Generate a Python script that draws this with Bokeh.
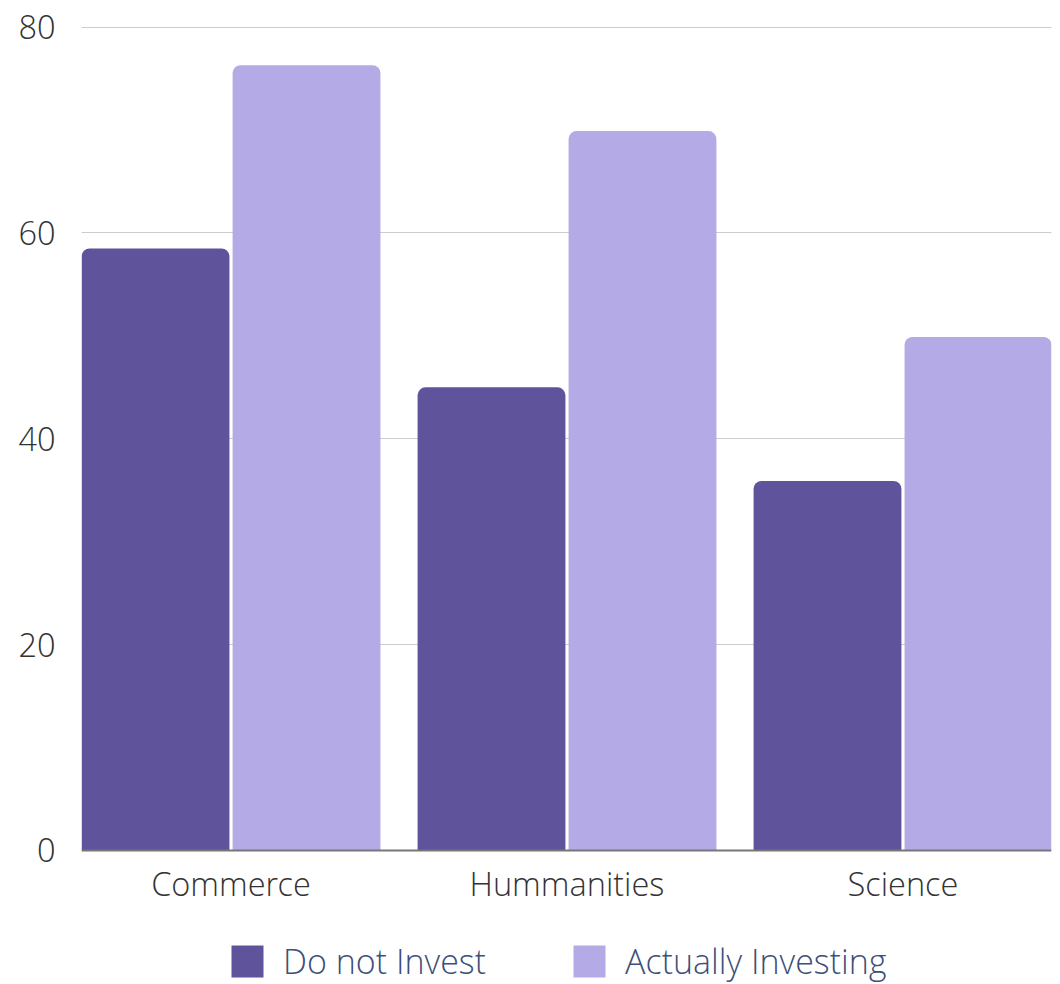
from bokeh.plotting import figure
from bokeh.models import ColumnDataSource, Range1d, FixedTicker, Legend, LegendItem
from bokeh.transform import dodge
from bokeh.embed import file_html
from bokeh.resources import INLINE

categories = ["Commerce", "Hummanities", "Science"]
do_not_invest = [58.5, 45.0, 35.9]
actually_investing = [76.3, 69.9, 49.9]
y_ticks = [0, 20, 40, 60, 80]

DARK = "#5f539c"
LIGHT = "#b3aae6"
FONT = "'Open Sans Light', 'Open Sans'"

src = ColumnDataSource(dict(
    x=list(range(len(categories))),
    dni=do_not_invest,
    ai=actually_investing,
))

# frame runs to the bottom of the page; the value 0 sits 134 px above it
p = figure(frame_width=970, frame_height=958, output_backend="svg", toolbar_location=None,
           x_range=Range1d(-0.445, 2.442), y_range=Range1d(-13.02, 80.06),
           min_border_left=81, min_border_right=9, min_border_top=26,
           min_border_bottom=0)
p.outline_line_color = None
p.background_fill_color = "white"
p.border_fill_color = "white"

r1 = p.vbar(x=dodge("x", -0.2247), top="dni", bottom=0, width=0.44, source=src,
            fill_color=DARK, line_color=None, border_radius=(8, 8, 0, 0))
r2 = p.vbar(x=dodge("x", 0.2247), top="ai", bottom=0, width=0.44, source=src,
            fill_color=LIGHT, line_color=None, border_radius=(8, 8, 0, 0))

p.xgrid.grid_line_color = None
p.ygrid.grid_line_color = "#cccccc"
p.ygrid.grid_line_width = 1
p.ygrid.ticker = FixedTicker(ticks=y_ticks)

p.yaxis.ticker = FixedTicker(ticks=y_ticks)
p.yaxis.axis_line_color = None
p.yaxis.major_tick_line_color = None
p.yaxis.minor_tick_line_color = None
p.yaxis.major_tick_out = 0
p.yaxis.major_label_standoff = 26
p.yaxis.major_label_text_font = FONT
p.yaxis.major_label_text_font_size = "32.5px"
p.yaxis.major_label_text_color = "#333333"

p.xaxis.fixed_location = 0
p.xaxis.ticker = FixedTicker(ticks=list(range(len(categories))))
p.xaxis.major_label_overrides = {i: c for i, c in enumerate(categories)}
p.xaxis.axis_line_color = "#777777"
p.xaxis.axis_line_width = 2
p.xaxis.major_tick_line_color = None
p.xaxis.minor_tick_line_color = None
p.xaxis.major_tick_out = 0
p.xaxis.major_label_standoff = 11
p.xaxis.major_label_text_font = FONT
p.xaxis.major_label_text_font_size = "32.5px"
p.xaxis.major_label_text_color = "#333333"

legend = Legend(items=[LegendItem(label="Do not Invest", renderers=[r1]),
                       LegendItem(label="Actually Investing", renderers=[r2])],
                orientation="horizontal", location=(146, 0),
                glyph_width=40, glyph_height=40, label_standoff=16, spacing=83,
                label_text_font=FONT, label_text_font_size="34px",
                label_text_color="#3d4f7a", border_line_color=None,
                background_fill_alpha=0, margin=0, padding=0)
p.add_layout(legend, "center")

open("out.html", "w").write(file_html(p, INLINE))
